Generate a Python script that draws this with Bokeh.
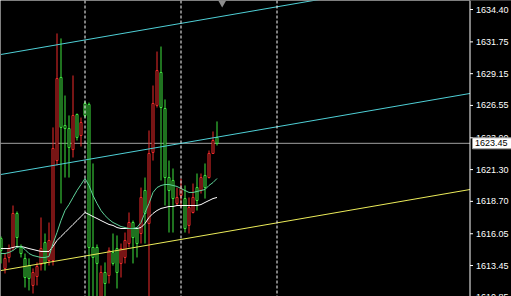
import numpy as np
from bokeh.plotting import figure
from bokeh.models import Range1d, Span
from bokeh.core.properties import value
from bokeh.embed import file_html
from bokeh.resources import INLINE

# Hourly bars (open / high / low / close)
opens = [1615.66, 1613.21, 1614.11, 1614.93, 1617.71, 1614.93, 1614.03, 1613.45, 1611.82, 1612.55,
         1613.53, 1615.33, 1613.86, 1613.86, 1622.04, 1628.84, 1624.91, 1624.66, 1622.94, 1625.81,
         1624.09, 1626.71, 1626.63, 1614.93, 1614.93, 1610.50, 1612.88, 1612.63, 1614.52, 1614.84,
         1613.62, 1614.11, 1615.25, 1616.97, 1616.48, 1616.07, 1619.59, 1616.89, 1622.70, 1626.55,
         1629.25, 1626.30, 1620.65, 1620.41, 1618.53, 1619.18, 1618.93, 1616.73, 1617.79, 1619.83,
         1619.59, 1620.82, 1620.65, 1622.62, 1623.93]
highs = [1615.83, 1614.43, 1615.17, 1618.36, 1617.87, 1615.17, 1614.43, 1614.03, 1613.21, 1613.70,
         1617.38, 1616.07, 1616.97, 1624.75, 1632.44, 1632.03, 1627.36, 1625.73, 1629.00, 1625.89,
         1625.56, 1626.87, 1626.79, 1621.80, 1615.17, 1613.45, 1613.70, 1614.93, 1616.07, 1615.91,
         1615.25, 1616.15, 1617.79, 1617.13, 1616.56, 1619.83, 1620.65, 1624.50, 1628.18, 1630.96,
         1631.37, 1627.04, 1622.04, 1621.39, 1619.83, 1620.57, 1620.00, 1619.02, 1620.16, 1620.98,
         1620.98, 1621.80, 1622.86, 1624.42, 1625.24]
lows = [1613.62, 1612.80, 1613.70, 1614.68, 1614.93, 1614.11, 1611.65, 1611.41, 1611.16, 1611.82,
        1613.04, 1613.04, 1613.45, 1613.45, 1621.64, 1618.53, 1620.65, 1620.65, 1622.29, 1623.68,
        1623.19, 1625.56, 1609.77, 1610.50, 1610.60, 1610.00, 1610.60, 1611.98, 1613.45, 1611.57,
        1612.47, 1613.62, 1614.93, 1613.62, 1614.11, 1615.25, 1615.25, 1609.50, 1622.04, 1626.38,
        1620.41, 1618.36, 1616.15, 1616.15, 1618.36, 1618.20, 1616.15, 1616.07, 1617.71, 1617.95,
        1619.34, 1618.93, 1620.57, 1622.62, 1623.27]
closes = [1614.68, 1614.03, 1614.84, 1617.71, 1615.74, 1614.43, 1612.47, 1612.39, 1612.88, 1613.37,
          1614.84, 1613.62, 1615.50, 1623.03, 1628.75, 1624.75, 1624.66, 1623.11, 1625.73, 1623.93,
          1625.15, 1625.73, 1614.93, 1614.11, 1613.62, 1612.88, 1611.98, 1614.68, 1613.62, 1612.88,
          1614.84, 1615.50, 1616.97, 1615.74, 1615.25, 1619.02, 1617.71, 1622.62, 1626.71, 1629.41,
          1626.38, 1620.65, 1619.59, 1618.93, 1619.02, 1619.75, 1616.48, 1618.20, 1619.02, 1618.77,
          1620.65, 1619.83, 1622.62, 1623.68, 1623.45]

# Moving averages (fast, slow)
ma_fast = [1614.43, 1614.43, 1614.52, 1614.68, 1614.93, 1615.01, 1614.76, 1614.43, 1614.27, 1614.19,
           1614.11, 1614.11, 1614.19, 1615.25, 1616.15, 1617.13, 1617.95, 1618.44, 1619.02, 1619.59,
           1620.08, 1620.57, 1620.00, 1619.18, 1618.53, 1617.95, 1617.54, 1617.22, 1616.97, 1616.81,
           1616.64, 1616.56, 1616.48, 1616.48, 1616.56, 1616.97, 1617.79, 1618.53, 1619.43, 1619.83,
           1620.00, 1620.08, 1620.08, 1620.00, 1619.92, 1619.75, 1619.59, 1619.43, 1619.43, 1619.51,
           1619.59, 1619.67, 1620.00, 1620.24, 1620.57]
ma_slow = [1614.84, 1614.84, 1614.84, 1614.93, 1615.01, 1615.01, 1614.93, 1614.84, 1614.76, 1614.68,
           1614.60, 1614.60, 1614.60, 1615.01, 1615.50, 1615.83, 1616.15, 1616.48, 1616.81, 1617.13,
           1617.46, 1617.79, 1617.63, 1617.46, 1617.30, 1617.13, 1616.97, 1616.81, 1616.73, 1616.56,
           1616.48, 1616.48, 1616.48, 1616.48, 1616.48, 1616.56, 1616.89, 1617.38, 1617.71, 1617.95,
           1618.12, 1618.20, 1618.28, 1618.28, 1618.36, 1618.36, 1618.36, 1618.36, 1618.36, 1618.36,
           1618.44, 1618.61, 1618.77, 1618.93, 1619.02]

# Trend / channel lines: price at bar 0 and at the price scale
line_bars = [0, 117.25]
channel_top = [1630.72, 1637.35]
channel_mid = [1620.90, 1627.53]
support_line = [1613.04, 1619.67]

# Day separators (bar index) and price scale
separators = [21, 45, 69]
price_ticks = [1610.85, 1613.45, 1616.05, 1618.70, 1621.30, 1623.90, 1626.55, 1629.15, 1631.75, 1634.40]
bid_price = 1623.45

UP = "#ee2a2a"
DOWN = "#3fe43f"
SCALE_FONT = value("Liberation Sans")

BAR_PX = 4.0                # horizontal pixels per bar
PRICE_LOW, PRICE_HIGH = 1610.915, 1635.137
PX_PER_PRICE = 296 / (PRICE_HIGH - PRICE_LOW)
scale_x = 117.25            # bar coordinate of the price-scale line

bars = np.arange(len(opens))
o = np.array(opens); c = np.array(closes)
colors = [UP if cc >= oo else DOWN for oo, cc in zip(o, c)]
body_top = np.maximum(o, c)
body_bot = np.minimum(o, c)

p = figure(width=511, height=296, output_backend="svg", toolbar_location=None,
           x_range=Range1d(-0.125, -0.125 + 511 / BAR_PX),
           y_range=Range1d(PRICE_LOW, PRICE_HIGH),
           x_axis_location=None, y_axis_location=None, min_border=0)
p.background_fill_color = "black"
p.border_fill_color = "black"
p.outline_line_color = None
p.grid.visible = False

# period separators
for s in separators:
    p.add_layout(Span(location=s, dimension="height", line_color="white",
                      line_width=1, line_dash="3 2"))

# bid line across the chart area
p.segment(x0=[-1], y0=[bid_price], x1=[scale_x], y1=[bid_price], line_color="#a0a0a0", line_width=1)

# candles: wicks then hollow bodies
p.segment(x0=bars, y0=lows, x1=bars, y1=highs, color=colors, line_width=1)
p.vbar(x=bars, width=0.5, top=body_top, bottom=body_bot, fill_color="black",
       line_color=colors, line_width=1)

# moving averages
p.line(bars, ma_slow, line_color="white", line_width=1)
p.line(bars, ma_fast, line_color="#5fd39a", line_width=1)

# channel lines
p.line(line_bars, channel_top, line_color="#4fd0d6", line_width=1)
p.line(line_bars, channel_mid, line_color="#4fd0d6", line_width=1)
p.line(line_bars, support_line, line_color="#ecec5a", line_width=1)

# chart-shift marker
p.scatter(x=[len(opens) + 0.3], y=[PRICE_HIGH], marker="inverted_triangle", size=12,
          fill_color="#8c8c8c", line_color=None)

# price scale: black panel, line, ticks and labels
p.quad(left=[scale_x], right=[scale_x + 20], bottom=[PRICE_LOW - 5], top=[PRICE_HIGH + 5],
       fill_color="black", line_color=None)
p.add_layout(Span(location=scale_x, dimension="height", line_color="white", line_width=1))
tick_len = 3 / BAR_PX
p.segment(x0=[scale_x] * len(price_ticks), y0=price_ticks,
          x1=[scale_x + tick_len] * len(price_ticks), y1=price_ticks,
          line_color="white", line_width=1)
p.text(x=[scale_x + 6 / BAR_PX] * len(price_ticks), y=price_ticks,
       text=[f"{t:.2f}" for t in price_ticks], text_color="white",
       text_font=SCALE_FONT, text_font_size="9px", text_baseline="middle", text_align="left")

# bid price tag
half_h = 5.5 / PX_PER_PRICE
p.quad(left=[scale_x + 2.5 / BAR_PX], right=[scale_x + 60 / BAR_PX],
       bottom=[bid_price - half_h], top=[bid_price + half_h],
       fill_color="white", line_color="#9a9a9a", line_width=1)
p.text(x=[scale_x + 5 / BAR_PX], y=[bid_price], text=[f"{bid_price:.2f}"],
       text_color="black", text_font=SCALE_FONT, text_font_size="9px",
       text_baseline="middle", text_align="left")

open("out.html", "w").write(file_html(p, INLINE))
